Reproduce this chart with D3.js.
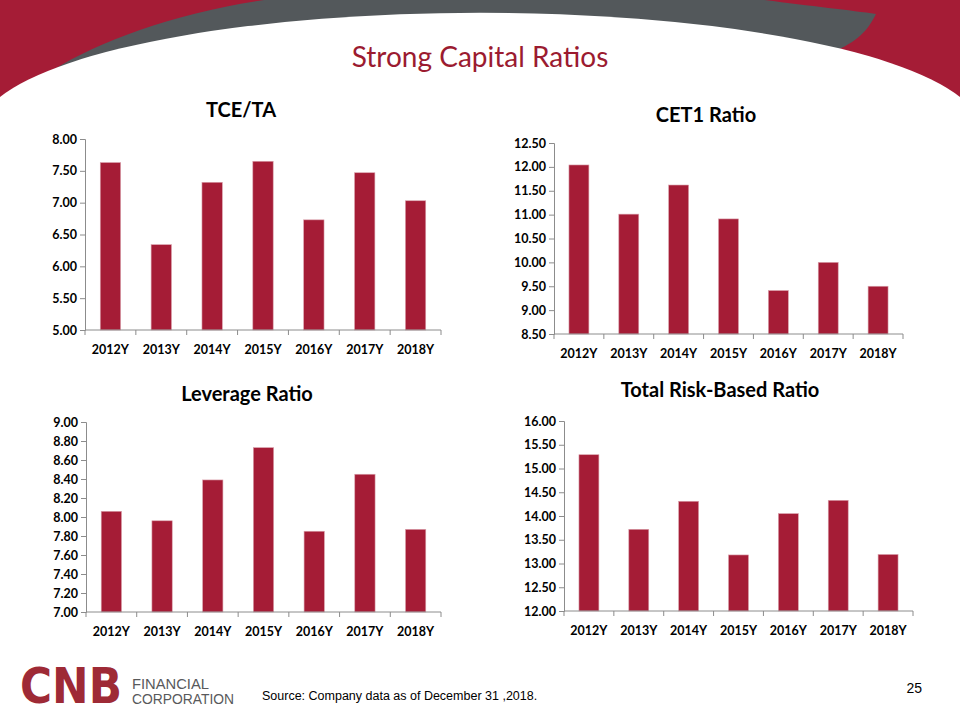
<!DOCTYPE html>
<html>
<head>
<meta charset="utf-8">
<script src="https://cdn.jsdelivr.net/npm/d3@7"></script>
<style>
  html, body { margin: 0; padding: 0; background: #fff; }
  svg { display: block; }
</style>
</head>
<body>
<svg id="slide" width="960" height="720"></svg>
<script>
// ---- Data ----
const categories = ["2012Y", "2013Y", "2014Y", "2015Y", "2016Y", "2017Y", "2018Y"];
const tceTa     = [7.63, 6.34, 7.32, 7.65, 6.73, 7.47, 7.03];
const cet1      = [12.04, 11.01, 11.62, 10.91, 9.41, 10.00, 9.50];
const leverage  = [8.06, 7.96, 8.39, 8.73, 7.85, 8.45, 7.87];
const totalRisk = [15.29, 13.72, 14.31, 13.18, 14.05, 14.33, 13.19];

const tceTicks      = [5.0, 5.5, 6.0, 6.5, 7.0, 7.5, 8.0];
const cet1Ticks     = [8.5, 9.0, 9.5, 10.0, 10.5, 11.0, 11.5, 12.0, 12.5];
const leverageTicks = [7.0, 7.2, 7.4, 7.6, 7.8, 8.0, 8.2, 8.4, 8.6, 8.8, 9.0];
const totalTicks    = [12.0, 12.5, 13.0, 13.5, 14.0, 14.5, 15.0, 15.5, 16.0];

const slideTitle = "Strong Capital Ratios";
const sourceText = "Source: Company data as of December 31 ,2018.";
const pageNumber = "25";

// ---- Styles ----
const RED = "#A51C36";
const GRAY = "#53585B";
const TITLE_RED = "#9B1B30";
const AXIS = "#8c8c8c";
const FONT = "Lato, 'Open Sans', sans-serif";

const svg = d3.select("#slide");

// ---- Header decoration ----
svg.append("rect").attr("x", 0).attr("y", 0).attr("width", 960).attr("height", 140).attr("fill", RED);
svg.append("path")
  .attr("d", "M53,70 C100,40 190,8 280,-2 L750,-2 C800,5 850,10 876,14 C868,30 858,42 832,52 L832,160 L53,160 Z")
  .attr("fill", GRAY);
svg.append("path")
  .attr("d", "M0,97 A500,117 0 0,1 960,97 L960,720 L0,720 Z")
  .attr("fill", "#fff");

svg.append("text")
  .attr("x", 480).attr("y", 67)
  .attr("text-anchor", "middle")
  .attr("font-family", FONT)
  .attr("font-size", 28)
  .attr("fill", TITLE_RED)
  .text(slideTitle);

// ---- Charts ----
const charts = [
  { title: "TCE/TA", values: tceTa, ticks: tceTicks, x0: 85, x1: 441, top: 139, bottom: 330, tx: 241, ty: 117 },
  { title: "CET1 Ratio", values: cet1, ticks: cet1Ticks, x0: 554, x1: 903, top: 143, bottom: 334, tx: 706, ty: 122 },
  { title: "Leverage Ratio", values: leverage, ticks: leverageTicks, x0: 86, x1: 441, top: 422, bottom: 612, tx: 247, ty: 401 },
  { title: "Total Risk-Based Ratio", values: totalRisk, ticks: totalTicks, x0: 564, x1: 913, top: 421, bottom: 611, tx: 720, ty: 397 }
];

charts.forEach(c => {
  const g = svg.append("g");
  const x = d3.scaleBand().domain(categories).range([c.x0, c.x1]).paddingInner(0.6).paddingOuter(0.3);
  const y = d3.scaleLinear().domain([c.ticks[0], c.ticks[c.ticks.length - 1]]).range([c.bottom, c.top]);

  // title
  g.append("text")
    .attr("x", c.tx).attr("y", c.ty)
    .attr("text-anchor", "middle")
    .attr("font-family", FONT)
    .attr("font-weight", "bold")
    .attr("font-size", 20)
    .attr("fill", "#000")
    .text(c.title);

  // bars
  g.selectAll("rect.bar")
    .data(categories)
    .join("rect")
    .attr("class", "bar")
    .attr("x", d => x(d))
    .attr("width", x.bandwidth())
    .attr("y", (d, i) => y(c.values[i]))
    .attr("height", (d, i) => y(c.ticks[0]) - y(c.values[i]))
    .attr("fill", RED)
    .attr("stroke", "#d9a0ab")
    .attr("stroke-width", 0.6);

  // y axis
  const yAxis = d3.axisLeft(y).tickValues(c.ticks).tickFormat(d3.format(".2f")).tickSize(5).tickPadding(3);
  const ya = g.append("g").attr("transform", `translate(${c.x0},0)`).call(yAxis);
  ya.select(".domain").attr("stroke", AXIS);
  ya.selectAll(".tick line").attr("stroke", AXIS);
  ya.selectAll(".tick text")
    .attr("font-family", FONT).attr("font-weight", "bold").attr("font-size", 12.5).attr("fill", "#000");

  // x axis line
  g.append("line")
    .attr("x1", c.x0).attr("x2", c.x1)
    .attr("y1", c.bottom).attr("y2", c.bottom)
    .attr("stroke", AXIS);
  // tick marks at category boundaries
  const bounds = d3.range(categories.length + 1).map(i => c.x0 + i * (c.x1 - c.x0) / categories.length);
  g.selectAll("line.xt")
    .data(bounds)
    .join("line")
    .attr("class", "xt")
    .attr("x1", d => d).attr("x2", d => d)
    .attr("y1", c.bottom).attr("y2", c.bottom + 5)
    .attr("stroke", AXIS);
  // category labels
  g.selectAll("text.cat")
    .data(categories)
    .join("text")
    .attr("class", "cat")
    .attr("x", d => x(d) + x.bandwidth() / 2)
    .attr("y", c.bottom + 24)
    .attr("text-anchor", "middle")
    .attr("font-family", FONT)
    .attr("font-weight", "bold")
    .attr("font-size", 12.5)
    .attr("fill", "#000")
    .text(d => d);
});

// ---- Footer ----
svg.append("text")
  .attr("x", 20).attr("y", 703)
  .attr("font-family", "'DejaVu Sans', sans-serif")
  .attr("font-weight", "bold")
  .attr("font-size", 50)
  .attr("textLength", 102)
  .attr("lengthAdjust", "spacingAndGlyphs")
  .attr("fill", "#9E2A36")
  .text("CNB");
svg.append("text")
  .attr("x", 132).attr("y", 689)
  .attr("font-family", "'Liberation Sans', Arial, sans-serif")
  .attr("font-size", 14)
  .attr("textLength", 77)
  .attr("lengthAdjust", "spacingAndGlyphs")
  .attr("fill", "#58595b")
  .text("FINANCIAL");
svg.append("text")
  .attr("x", 132).attr("y", 704)
  .attr("font-family", "'Liberation Sans', Arial, sans-serif")
  .attr("font-size", 14)
  .attr("textLength", 102)
  .attr("lengthAdjust", "spacingAndGlyphs")
  .attr("fill", "#58595b")
  .text("CORPORATION");

svg.append("text")
  .attr("x", 262).attr("y", 700)
  .attr("font-family", "'Liberation Sans', Arial, sans-serif")
  .attr("font-size", 12.5)
  .attr("fill", "#000")
  .text(sourceText);

svg.append("text")
  .attr("x", 922).attr("y", 693)
  .attr("text-anchor", "end")
  .attr("font-family", "'Liberation Sans', Arial, sans-serif")
  .attr("font-size", 14)
  .attr("fill", "#000")
  .text(pageNumber);
</script>
</body>
</html>
